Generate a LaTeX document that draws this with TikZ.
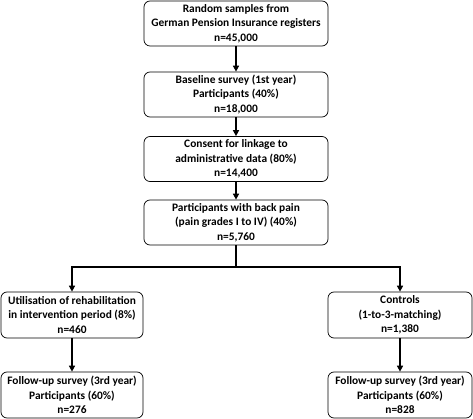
\documentclass[tikz,border=0pt]{standalone}
\usepackage{fontspec}
\setmainfont{Carlito}
\usetikzlibrary{arrows.meta}
\tikzset{
	flowbox/.style={draw=black, line width=0.7pt, rounded corners=6pt, align=center, font=\bfseries\fontsize{11.4}{14.5}\selectfont, inner sep=0pt},
	mainbox/.style={flowbox, minimum width=184pt, minimum height=45pt},
	sidebox/.style={flowbox, minimum width=142pt, minimum height=46pt},
	flowline/.style={line width=1.6pt},
	flowarrow/.style={flowline, -{Triangle[length=6pt,width=6pt]}}
}

\begin{document}
\begin{tikzpicture}[x=1pt, y=-1pt]
		%%%%% START %%%%%
		\useasboundingbox (0, 0) rectangle (473, 419);
		
		\node[mainbox] (sample) at (236, 23.5) {Random samples from\\German Pension Insurance registers\\n=45,000};
		\node[mainbox] (baseline) at (236, 94.5) {Baseline survey (1st year)\\Participants (40\%)\\n=18,000};
		\node[mainbox] (consent) at (236, 159) {Consent for linkage to\\administrative data (80\%)\\n=14,400};
		\node[mainbox] (backpain) at (236, 222.5) {Participants with back pain\\(pain grades I to IV) (40\%)\\n=5,760};
		
		\node[sidebox] (rehab) at (72, 315) {Utilisation of rehabilitation\\in intervention period (8\%)\\n=460};
		\node[sidebox] (followa) at (72, 395) {Follow-up survey (3rd year)\\Participants (60\%)\\n=276};
		\node[sidebox, minimum width=144pt] (controls) at (400, 315) {Controls\\(1-to-3-matching)\\n=1,380};
		\node[sidebox, minimum width=144pt] (followb) at (400, 395) {Follow-up survey (3rd year)\\Participants (60\%)\\n=828};
		
		\coordinate (split) at (236, 267);
		
		\draw[flowarrow] (sample) -- (baseline);
		\draw[flowarrow] (baseline) -- (consent);
		\draw[flowarrow] (consent) -- (backpain);
		\draw[flowline] (backpain) -- (split);
		\draw[flowarrow] (split) -| (rehab);
		\draw[flowarrow] (split) -| (controls);
		\draw[flowarrow] (rehab) -- (followa);
		\draw[flowarrow] (controls) -- (followb);
		%%%%% END %%%%%
	\end{tikzpicture}
\end{document}
